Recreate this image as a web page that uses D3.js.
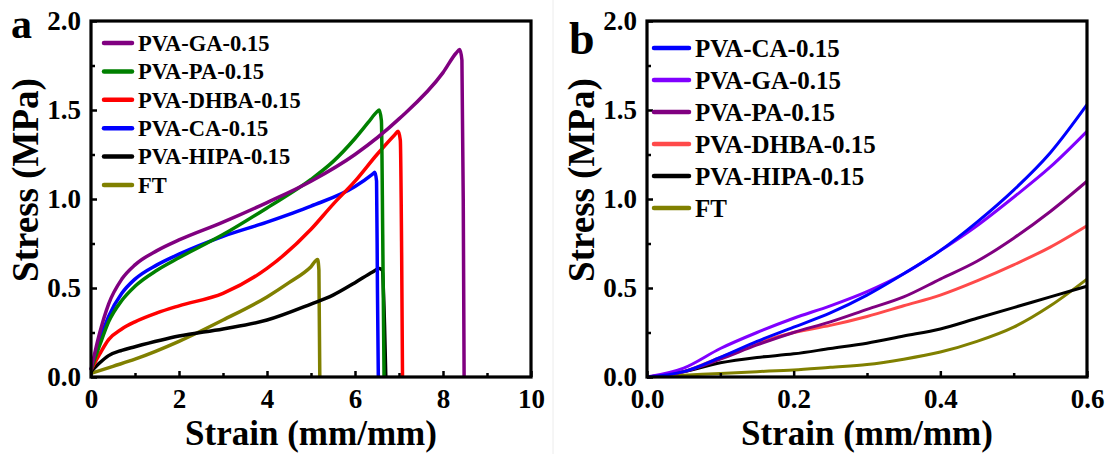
<!DOCTYPE html>
<html>
<head>
<meta charset="utf-8">
<script src="https://cdn.jsdelivr.net/npm/d3@7"></script>
<style>
  body { margin: 0; background: #fff; }
  svg text { font-family: "Liberation Serif", "Times New Roman", serif; font-weight: bold; fill: #000; }
</style>
</head>
<body>
<div id="chart"></div>
<script>
    // Panel a: full curves (strain mm/mm, stress MPa)
    namesA = ["PVA-GA-0.15", "PVA-PA-0.15", "PVA-DHBA-0.15", "PVA-CA-0.15", "PVA-HIPA-0.15", "FT"]
    colorsA = ["#800080", "#008000", "#ff0000", "#0000ff", "#000000", "#808000"]

    gaA = [[0,0.04],[0.1,0.15],[0.2,0.25],[0.4,0.41],[0.7,0.55],[1.0,0.63],[1.5,0.71],[2,0.77],[3,0.87],[4,0.98],[5,1.1],[6,1.25],[7,1.45],[8,1.71],[8.3,1.82],[8.38,1.84],[8.43,1.78],[8.46,1.0],[8.48,0]]
    paA = [[0,0.04],[0.2,0.18],[0.4,0.31],[0.7,0.43],[1.0,0.51],[1.5,0.6],[2,0.67],[3,0.8],[4,0.95],[5,1.11],[5.5,1.21],[6,1.34],[6.3,1.43],[6.5,1.49],[6.55,1.5],[6.6,1.44],[6.63,0.8],[6.66,0]]
    dhbaA = [[0,0.04],[0.2,0.13],[0.4,0.21],[0.7,0.27],[1.0,0.31],[1.5,0.36],[2,0.4],[3,0.47],[4,0.61],[5,0.83],[5.5,0.97],[6,1.1],[6.5,1.25],[6.9,1.36],[6.98,1.38],[7.03,1.33],[7.06,0.7],[7.08,0]]
    caA = [[0,0.04],[0.2,0.21],[0.4,0.34],[0.7,0.47],[1.0,0.55],[1.5,0.63],[2,0.69],[3,0.79],[4,0.87],[5,0.96],[6,1.07],[6.4,1.14],[6.45,1.15],[6.49,1.1],[6.51,0.5],[6.53,0]]
    hipaA = [[0,0.03],[0.2,0.08],[0.4,0.12],[0.7,0.15],[1,0.17],[2,0.23],[3,0.27],[4,0.32],[5,0.41],[5.5,0.46],[6,0.53],[6.4,0.59],[6.55,0.61],[6.62,0.6],[6.67,0.3],[6.7,0]]
    ftA = [[0,0.02],[0.5,0.06],[1,0.1],[2,0.2],[3,0.32],[4,0.45],[4.5,0.53],[5,0.62],[5.15,0.66],[5.18,0.6],[5.2,0]]
    seriesA = [gaA, paA, dhbaA, caA, hipaA, ftA]

    // Panel b: small strain region
    namesB = ["PVA-CA-0.15", "PVA-GA-0.15", "PVA-PA-0.15", "PVA-DHBA-0.15", "PVA-HIPA-0.15", "FT"]
    colorsB = ["#0000ff", "#8000ff", "#800080", "#ff4a4a", "#000000", "#808000"]
    strainB = [0, 0.05, 0.1, 0.15, 0.2, 0.25, 0.3, 0.35, 0.4, 0.45, 0.5, 0.55, 0.6]
    caB = [0, 0.03, 0.11, 0.2, 0.28, 0.36, 0.46, 0.58, 0.71, 0.87, 1.05, 1.26, 1.53]
    gaB = [0, 0.05, 0.16, 0.25, 0.33, 0.4, 0.48, 0.58, 0.71, 0.85, 1.01, 1.18, 1.38]
    paB = [0, 0.03, 0.1, 0.18, 0.25, 0.31, 0.38, 0.45, 0.55, 0.65, 0.78, 0.93, 1.1]
    dhbaB = [0, 0.03, 0.11, 0.19, 0.25, 0.29, 0.34, 0.4, 0.46, 0.54, 0.63, 0.73, 0.85]
    hipaB = [0, 0.03, 0.08, 0.11, 0.13, 0.16, 0.19, 0.23, 0.27, 0.33, 0.39, 0.45, 0.51]
    ftB = [0, 0.01, 0.02, 0.03, 0.04, 0.055, 0.07, 0.1, 0.14, 0.2, 0.28, 0.4, 0.55]
    seriesB = [caB, gaB, paB, dhbaB, hipaB, ftB]

    yTicks = [0, 0.5, 1.0, 1.5, 2.0]
    yMinor = [0.25, 0.75, 1.25, 1.75]
    xTicksA = [0, 2, 4, 6, 8, 10]
    xMinorA = [1, 3, 5, 7, 9]
    xTicksB = [0, 0.2, 0.4, 0.6]
    xMinorB = [0.1, 0.3, 0.5]

    canvas = ({width: 1118, height: 454})
    top_ = 21
    bottom_ = 377

    var svg = d3.select("#chart").append("svg")
        .attr("width", canvas.width)
        .attr("height", canvas.height)

    // faint divider between the two panels
    svg.append("line")
        .attr("x1", 553).attr("x2", 553).attr("y1", 0).attr("y2", canvas.height)
        .attr("stroke", "#ececec").attr("stroke-width", 1)

    function panel(opt) {
        x = d3.scaleLinear().domain(opt.xlim).range([opt.left, opt.right])
        y = d3.scaleLinear().domain([0, 2]).range([bottom_, top_])
        g = svg.append("g")

        line = d3.line()
            .x(d => x(d[0]))
            .y(d => y(d[1]))
            .curve(d3.curveMonotoneX)

        // curves, drawn so that first legend entry ends on top
        opt.series.slice().reverse().forEach(function(s, i) {
            k = opt.series.length - 1 - i
            g.append("path")
                .attr("fill", "none")
                .attr("stroke", opt.colors[k])
                .attr("stroke-width", opt.lw)
                .attr("stroke-linejoin", "round")
                .attr("d", line(s))
        })

        // axes with inward ticks
        g.append("g")
            .attr("transform", `translate(0,${bottom_})`)
            .call(d3.axisBottom(x).tickValues(opt.xTicks).tickFormat(opt.xFmt).tickSize(-6).tickPadding(12))
            .call(a => a.select(".domain").remove())
        g.append("g")
            .attr("transform", `translate(0,${bottom_})`)
            .call(d3.axisBottom(x).tickValues(opt.xMinor).tickFormat("").tickSize(-4))
            .call(a => a.select(".domain").remove())
        g.append("g")
            .attr("transform", `translate(${opt.left},0)`)
            .call(d3.axisLeft(y).tickValues(yTicks).tickFormat(d3.format(".1f")).tickSize(-6).tickPadding(10))
            .call(a => a.select(".domain").remove())
        g.append("g")
            .attr("transform", `translate(${opt.left},0)`)
            .call(d3.axisLeft(y).tickValues(yMinor).tickFormat("").tickSize(-4))
            .call(a => a.select(".domain").remove())

        g.selectAll(".tick line").attr("stroke", "#000").attr("stroke-width", 2.5)
        g.selectAll(".tick text")
            .attr("font-size", 27)
            .attr("font-family", "Liberation Serif, Times New Roman, serif")
            .attr("font-weight", "bold")
            .attr("fill", "#000")

        // frame
        g.append("rect")
            .attr("x", opt.left).attr("y", top_)
            .attr("width", opt.right - opt.left).attr("height", bottom_ - top_)
            .attr("fill", "none").attr("stroke", "#000").attr("stroke-width", 3.2)

        // legend
        opt.names.forEach(function(n, i) {
            ly = opt.leg.y0 + i * opt.leg.dy
            g.append("line")
                .attr("x1", opt.leg.x0).attr("x2", opt.leg.x1)
                .attr("y1", ly).attr("y2", ly)
                .attr("stroke", opt.colors[i]).attr("stroke-width", 4.5)
                .attr("stroke-linecap", "round")
            g.append("text")
                .attr("x", opt.leg.x1 + opt.leg.gap).attr("y", ly)
                .attr("dy", "0.35em")
                .attr("font-size", opt.leg.fs)
                .text(n)
        })

        // axis titles
        g.append("text")
            .attr("x", (opt.left + opt.right) / 2).attr("y", 445)
            .attr("text-anchor", "middle")
            .attr("font-size", 35)
            .text("Strain (mm/mm)")
        g.append("text")
            .attr("transform", `translate(${opt.left - 53},180) rotate(-90)`)
            .attr("text-anchor", "middle")
            .attr("font-size", 37)
            .text("Stress (MPa)")

        // panel letter
        g.append("text")
            .attr("x", opt.letter.x).attr("y", opt.letter.y)
            .attr("font-size", opt.letter.fs)
            .text(opt.letter.t)
    }

    panel({
        xlim: [0, 10], left: 91, right: 531,
        series: seriesA, colors: colorsA, names: namesA, lw: 3.5,
        xTicks: xTicksA, xMinor: xMinorA, xFmt: d3.format("d"),
        leg: {x0: 104, x1: 132, gap: 6, y0: 43, dy: 28.4, fs: 22.5},
        letter: {t: "a", x: 11, y: 38, fs: 42}
    })

    panel({
        xlim: [0, 0.6], left: 647, right: 1087,
        series: seriesB.map(s => s.map((v, i) => [strainB[i], v])),
        colors: colorsB, names: namesB, lw: 3,
        xTicks: xTicksB, xMinor: xMinorB, xFmt: d3.format(".1f"),
        leg: {x0: 654, x1: 689, gap: 6, y0: 48, dy: 32, fs: 25},
        letter: {t: "b", x: 569, y: 54, fs: 46}
    })
</script>
</body>
</html>
